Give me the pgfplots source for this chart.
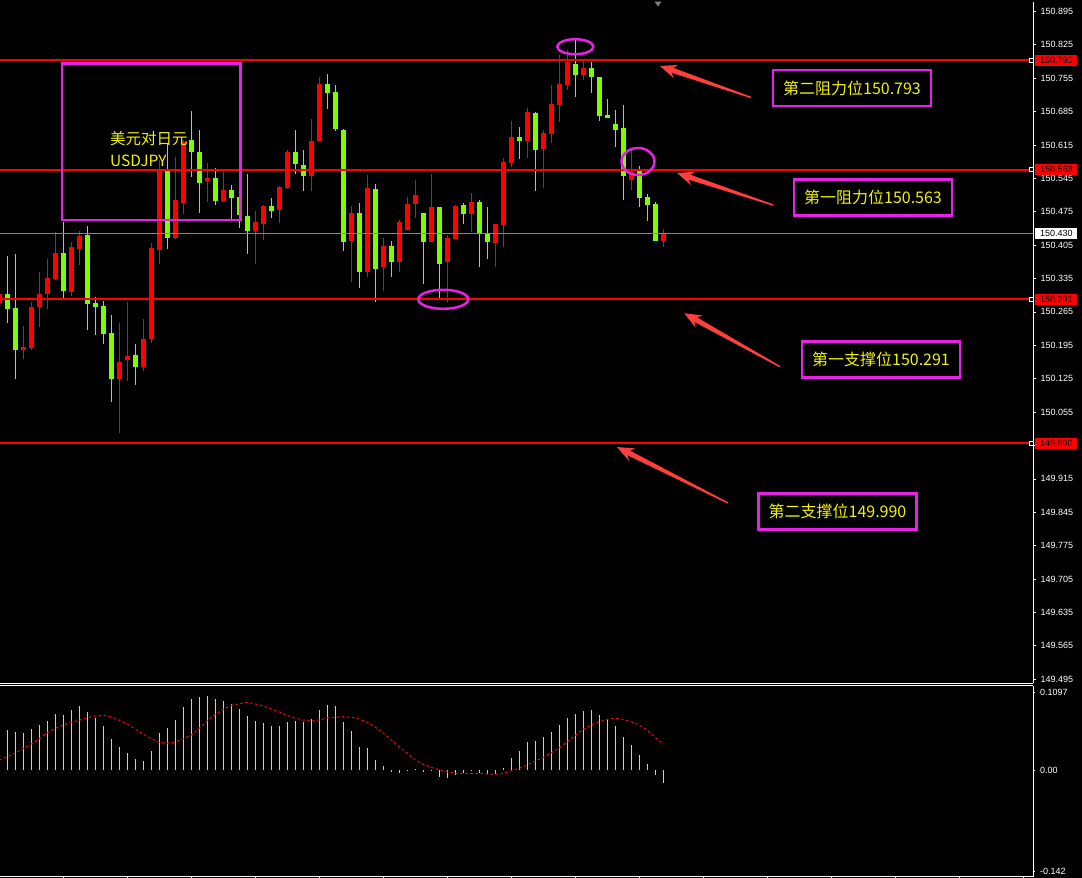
\documentclass[border=0pt]{standalone}
\usepackage{fontspec}
\setmainfont{Liberation Sans}
\newfontfamily\cjk{Noto Sans CJK SC}
\usepackage{pgfplots}
\pgfplotsset{compat=1.18}
\usepackage{pgfplotstable}
\usetikzlibrary{calc}

\definecolor{bull}{RGB}{255,0,0}
\definecolor{bear}{RGB}{124,252,0}
\definecolor{levelred}{RGB}{255,0,0}
\definecolor{mag}{RGB}{232,32,232}
\definecolor{yel}{RGB}{242,242,0}
\definecolor{arrowred}{RGB}{255,62,62}
\definecolor{lastgrey}{RGB}{119,136,153}
\definecolor{histgrey}{RGB}{205,205,205}

% up candles (red)
\pgfplotstableread{
i O H L C
-1 150.284 150.306 150.280 150.302
2 150.184 150.235 150.167 150.192
3 150.190 150.286 150.184 150.275
4 150.276 150.349 150.234 150.302
5 150.303 150.376 150.272 150.336
6 150.334 150.432 150.332 150.388
8 150.307 150.411 150.299 150.401
9 150.397 150.435 150.364 150.424
14 150.125 150.241 150.010 150.159
15 150.165 150.285 150.119 150.172
17 150.150 150.249 150.140 150.208
18 150.208 150.409 150.200 150.399
19 150.395 150.583 150.366 150.562
21 150.420 150.590 150.418 150.499
22 150.494 150.625 150.470 150.622
25 150.540 150.577 150.496 150.546
27 150.498 150.558 150.496 150.520
31 150.435 150.476 150.366 150.453
32 150.450 150.489 150.416 150.487
34 150.479 150.529 150.452 150.527
35 150.525 150.604 150.523 150.600
38 150.550 150.669 150.519 150.623
39 150.623 150.757 150.622 150.743
43 150.414 150.487 150.328 150.472
45 150.349 150.552 150.339 150.525
47 150.360 150.420 150.309 150.403
49 150.370 150.458 150.349 150.453
50 150.437 150.506 150.437 150.491
51 150.492 150.541 150.462 150.510
53 150.412 150.554 150.412 150.485
55 150.370 150.426 150.286 150.420
56 150.418 150.489 150.418 150.487
58 150.471 150.514 150.433 150.495
61 150.410 150.449 150.360 150.449
62 150.448 150.588 150.400 150.579
63 150.578 150.665 150.569 150.632
65 150.624 150.692 150.588 150.684
67 150.607 150.646 150.525 150.640
68 150.638 150.741 150.618 150.701
69 150.699 150.803 150.664 150.743
70 150.741 150.814 150.731 150.789
72 150.762 150.795 150.752 150.776
78 150.542 150.604 150.521 150.559
82 150.414 150.439 150.402 150.430
}\bulltab

% down candles (green)
\pgfplotstableread{
i O H L C
0 150.302 150.382 150.242 150.270
1 150.273 150.386 150.125 150.184
7 150.388 150.453 150.291 150.308
10 150.426 150.445 150.226 150.282
11 150.284 150.296 150.217 150.276
12 150.277 150.287 150.198 150.219
13 150.220 150.258 150.077 150.125
16 150.174 150.197 150.112 150.150
20 150.560 150.619 150.397 150.420
23 150.625 150.686 150.548 150.601
24 150.600 150.646 150.473 150.536
26 150.546 150.567 150.490 150.498
28 150.520 150.531 150.460 150.504
29 150.506 150.506 150.441 150.469
30 150.466 150.554 150.387 150.435
33 150.487 150.504 150.462 150.477
36 150.600 150.646 150.553 150.574
37 150.573 150.604 150.519 150.550
40 150.743 150.764 150.691 150.724
41 150.726 150.741 150.645 150.649
42 150.646 150.648 150.393 150.412
44 150.472 150.493 150.314 150.349
46 150.523 150.533 150.286 150.355
48 150.403 150.413 150.339 150.370
52 150.472 150.472 150.324 150.412
54 150.485 150.485 150.290 150.366
57 150.489 150.493 150.450 150.471
59 150.495 150.499 150.360 150.428
60 150.428 150.485 150.376 150.412
64 150.632 150.653 150.586 150.624
66 150.682 150.684 150.519 150.605
71 150.785 150.835 150.716 150.762
73 150.776 150.789 150.724 150.758
74 150.757 150.757 150.666 150.676
75 150.678 150.711 150.672 150.672
76 150.659 150.688 150.611 150.647
77 150.650 150.699 150.500 150.550
79 150.561 150.571 150.485 150.504
80 150.506 150.512 150.456 150.490
81 150.491 150.495 150.414 150.414
}\beartab

% MACD histogram h and signal s
\pgfplotstableread{
i h s
-1 0 0.0140
0 0.0562 0.0183
1 0.0534 0.0239
2 0.0520 0.0299
3 0.0576 0.0365
4 0.0632 0.0440
5 0.0688 0.0524
6 0.0787 0.0586
7 0.0772 0.0632
8 0.0843 0.0670
9 0.0899 0.0698
10 0.0815 0.0735
11 0.0730 0.0758
12 0.0618 0.0768
13 0.0435 0.0749
14 0.0323 0.0698
15 0.0239 0.0642
16 0.0154 0.0576
17 0.0126 0.0501
18 0.0267 0.0440
19 0.0520 0.0389
20 0.0590 0.0379
21 0.0702 0.0393
22 0.0885 0.0435
23 0.0997 0.0492
24 0.1025 0.0586
25 0.1039 0.0692
26 0.0997 0.0782
27 0.0969 0.0853
28 0.0927 0.0909
29 0.0857 0.0931
30 0.0758 0.0951
31 0.0688 0.0927
32 0.0660 0.0899
33 0.0618 0.0857
34 0.0618 0.0815
35 0.0674 0.0768
36 0.0688 0.0730
37 0.0674 0.0702
38 0.0716 0.0688
39 0.0843 0.0702
40 0.0913 0.0730
41 0.0899 0.0742
42 0.0674 0.0749
43 0.0548 0.0740
44 0.0323 0.0716
45 0.0309 0.0670
46 0.0140 0.0604
47 0.0056 0.0520
48 -0.0028 0.0421
49 -0.0042 0.0323
50 -0.0014 0.0235
51 0.0014 0.0140
52 -0.0028 0.0080
53 -0.0014 0.0038
54 -0.0098 0.0000
55 -0.0112 -0.0028
56 -0.0070 -0.0046
57 -0.0042 -0.0046
58 -0.0014 -0.0046
59 -0.0042 -0.0046
60 -0.0056 -0.0056
61 -0.0056 -0.0060
62 0.0028 -0.0052
63 0.0169 -0.0010
64 0.0267 0.0024
65 0.0393 0.0070
66 0.0407 0.0126
67 0.0463 0.0178
68 0.0534 0.0243
69 0.0632 0.0313
70 0.0730 0.0397
71 0.0787 0.0487
72 0.0829 0.0572
73 0.0843 0.0636
74 0.0772 0.0678
75 0.0702 0.0712
76 0.0618 0.0726
77 0.0463 0.0712
78 0.0351 0.0678
79 0.0211 0.0632
80 0.0084 0.0558
81 -0.0070 0.0454
82 -0.0183 0.0365
}\macdtab

\newcommand{\fatarrow}[2]{% #1 tail, #2 tip
  \coordinate (aA) at #1;
  \coordinate (aT) at #2;
  \coordinate (aH) at ($(aT)!17pt!(aA)$);
  \coordinate (aN) at ($(aT)!13pt!(aA)$);
  \fill[arrowred] (aT) -- ($(aH)!7pt!90:(aT)$) -- ($(aN)!2.6pt!90:(aT)$)
    -- ($(aA)!0.7pt!90:(aT)$) -- ($(aA)!0.7pt!-90:(aT)$)
    -- ($(aN)!2.6pt!-90:(aT)$) -- ($(aH)!7pt!-90:(aT)$) -- cycle;
}

\begin{document}
\begin{tikzpicture}[x=1pt,y=1pt]
\useasboundingbox (0,0) rectangle (1082,-878);
\fill[black] (0,0) rectangle (1082,-878);

% price panel
\begin{axis}[
  at={(0pt,-2pt)}, anchor=north west, scale only axis,
  width=1033pt, height=681pt,
  xmin=-0.9125, xmax=128.21, ymin=149.4869, ymax=150.9146,
  axis background/.style={fill=black},
  axis x line*=bottom, axis y line*=right,
  axis line style={white, line width=0.8pt},
  xtick=\empty,
  ytick={149.495,149.565,149.635,149.705,149.775,149.845,149.915,149.985,150.055,150.125,150.195,150.265,150.335,150.405,150.475,150.545,150.615,150.685,150.755,150.825,150.895},
  yticklabels={149.495,149.565,149.635,149.705,149.775,149.845,149.915,,150.055,150.125,150.195,150.265,150.335,150.405,150.475,150.545,150.615,150.685,150.755,150.825,150.895},
  tick align=outside, major tick length=3pt,
  tick style={white, line width=0.6pt},
  yticklabel style={text=white, font=\fontsize{9}{10}\selectfont, xshift=1pt},
]
% wicks
\addplot[draw=none, mark=none, forget plot, error bars/.cd, y dir=plus, y explicit, error mark=none,
  error bar style={draw=bull, line width=1pt}]
  table[x=i, y=L, y error plus expr=\thisrow{H}-\thisrow{L}] {\bulltab};
\addplot[draw=none, mark=none, forget plot, error bars/.cd, y dir=plus, y explicit, error mark=none,
  error bar style={draw=bear, line width=1pt}]
  table[x=i, y=L, y error plus expr=\thisrow{H}-\thisrow{L}] {\beartab};
% bodies
\addplot[draw=none, mark=none, forget plot, error bars/.cd, y dir=plus, y explicit, error mark=none,
  error bar style={draw=bull, line width=5pt}]
  table[x=i, y=O, y error plus expr=\thisrow{C}-\thisrow{O}] {\bulltab};
\addplot[draw=none, mark=none, forget plot, error bars/.cd, y dir=plus, y explicit, error mark=none,
  error bar style={draw=bear, line width=5pt}]
  table[x=i, y=C, y error plus expr=\thisrow{O}-\thisrow{C}] {\beartab};

% level anchors
\coordinate (s1) at (axis cs:-0.9125,150.793);
\coordinate (s2) at (axis cs:-0.9125,150.563);
\coordinate (s3) at (axis cs:-0.9125,150.291);
\coordinate (s4) at (axis cs:-0.9125,149.990);
\coordinate (s5) at (axis cs:-0.9125,150.430);
\coordinate (t1) at (axis cs:128.21,150.793);
\coordinate (t2) at (axis cs:128.21,150.563);
\coordinate (t3) at (axis cs:128.21,150.291);
\coordinate (t4) at (axis cs:128.21,149.990);
\coordinate (t5) at (axis cs:128.21,150.430);
\end{axis}

% horizontal levels
\draw[draw=lastgrey, line width=1.2pt] (s5) -- (t5);
\draw[draw=levelred, line width=2pt] (s1) -- (t1);
\draw[draw=levelred, line width=2pt] (s2) -- (t2);
\draw[draw=levelred, line width=2pt] (s3) -- (t3);
\draw[draw=levelred, line width=2pt] (s4) -- (t4);

% price tags on the right scale
\foreach \c/\t in {t1/150.793, t2/150.563, t3/150.291, t4/149.990} {
  \fill[levelred] ($(\c)+(2pt,5.5pt)$) rectangle ($(\c)+(44.5pt,-5.5pt)$);
  \node[text=black, inner sep=0, font=\fontsize{9}{10}\selectfont] at ($(\c)+(23.3pt,0pt)$) {\t};
  \filldraw[draw=white, fill=black, line width=0.8pt] ($(\c)+(-3.5pt,2pt)$) rectangle ($(\c)+(0pt,-2pt)$);
}
\fill[white] ($(t5)+(2pt,5.5pt)$) rectangle ($(t5)+(44.5pt,-5.5pt)$);
\node[text=black, inner sep=0, font=\fontsize{9}{10}\selectfont] at ($(t5)+(23.3pt,0pt)$) {150.430};

% MACD panel
\begin{axis}[
  at={(0pt,-685.5pt)}, anchor=north west, scale only axis,
  width=1033pt, height=191pt,
  xmin=-0.9125, xmax=128.21, ymin=-0.1496, ymax=0.1187,
  axis background/.style={fill=black},
  axis x line*=box, axis y line*=right,
  axis line style={white, line width=0.8pt},
  xtick={7,15,...,127}, xticklabels={}, xtick pos=lower,
  ytick={-0.142,0,0.1097}, yticklabels={-0.142,0.00,0.1097},
  tick align=outside, major tick length=2.5pt,
  tick style={white, line width=0.6pt},
  yticklabel style={text=white, font=\fontsize{9}{10}\selectfont, xshift=1pt},
]
\addplot[ycomb, draw=histgrey, line width=1pt, mark=none] table[x=i, y=h] {\macdtab};
\addplot[draw=bull, line width=1pt, dash pattern=on 2.5pt off 2.5pt, mark=none] table[x=i, y=s] {\macdtab};
\end{axis}

% annotations
\draw[mag, line width=2.5pt] (62,-63.5) rectangle (240.5,-220);
\node[anchor=base west, inner sep=0, text=yel, font=\cjk\fontsize{15.5}{18}\selectfont] at (110,-144) {美元对日元};
\node[anchor=base west, inner sep=0, text=yel, font=\cjk\fontsize{15.5}{18}\selectfont] at (110,-166) {USDJPY};

\foreach \cx/\cy/\t in {852/88/第二阻力位150.793, 873/197.5/第一阻力位150.563, 881/359.7/第一支撑位150.291, 837.5/511.5/第二支撑位149.990} {
  \node[draw=mag, line width=2.5pt, minimum width=158pt, minimum height=36pt, inner sep=0,
    text=yel, font=\cjk\fontsize{16}{18}\selectfont] at (\cx,-\cy) {\t};
}

\fatarrow{(751,-97.5)}{(660,-66)}
\fatarrow{(773,-205)}{(677,-173)}
\fatarrow{(780,-366.7)}{(684.3,-313.3)}
\fatarrow{(728,-503)}{(617,-447)}

\draw[mag, line width=2.5pt] (575.3,-46.7) ellipse (18pt and 7.5pt);
\draw[mag, line width=2.5pt] (638,-161.5) ellipse (16.5pt and 13.5pt);
\draw[mag, line width=2.5pt] (443.3,-299.3) ellipse (25pt and 9.5pt);

\fill[gray] (654.5,-1.5) -- (661.5,-1.5) -- (658,-6.5) -- cycle;
\end{tikzpicture}
\end{document}
